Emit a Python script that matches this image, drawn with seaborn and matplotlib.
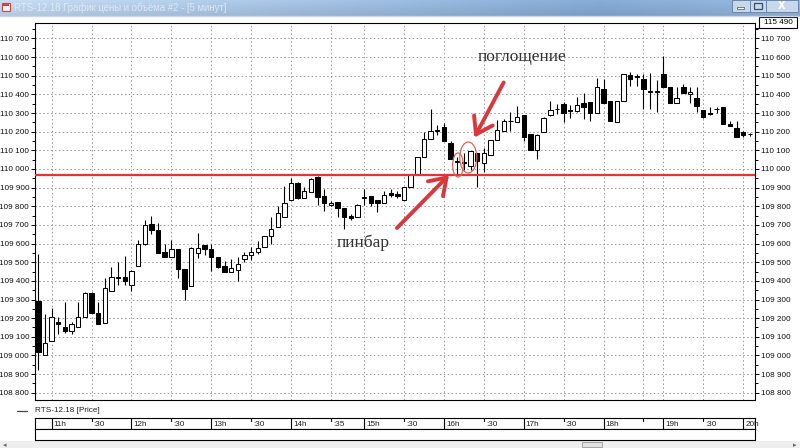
import matplotlib
matplotlib.use("Agg")
import matplotlib.pyplot as plt
import seaborn as sns
import numpy as np
from matplotlib import font_manager
from matplotlib.font_manager import FontProperties
from matplotlib.patches import Rectangle, Ellipse, FancyArrowPatch

# ---------------- data ----------------
opens = [109290, 109005, 109075, 109180, 109150, 109130, 109150, 109205, 109335, 109230,
         109175, 109345, 109415, 109420, 109380, 109480, 109600, 109705, 109675, 109555,
         109530, 109570, 109465, 109370, 109550, 109590, 109570, 109530, 109480, 109450,
         109460, 109515, 109540, 109555, 109580, 109640, 109690, 109745, 109835, 109925,
         109845, 109875, 109955, 109855, 109805, 109825, 109790, 109750, 109745, 109845,
         109855, 109835, 109815, 109870, 109865, 109835, 109905, 109975, 110065, 110160,
         110205, 110225, 110140, 110045, 110040, 110015, 110085, 110030, 110075, 110155,
         110205, 110255, 110250, 110290, 110185, 110100, 110200, 110290, 110320, 110350,
         110315, 110310, 110355, 110360, 110300, 110430, 110365, 110250, 110365, 110505,
         110495, 110480, 110420, 110415, 110510, 110440, 110355, 110440, 110400, 110380,
         110315, 110300, 110320, 110330, 110240, 110220, 110200, 110185]
highs = [109545, 109220, 109255, 109205, 109285, 109180, 109285, 109340, 109340, 109285,
         109415, 109475, 109500, 109535, 109460, 109620, 109725, 109750, 109710, 109600,
         109620, 109570, 109465, 109580, 109655, 109595, 109600, 109530, 109505, 109515,
         109530, 109555, 109580, 109615, 109640, 109745, 109800, 109910, 109950, 109930,
         109905, 109950, 109960, 109895, 109830, 109825, 109790, 109760, 109810, 109895,
         109855, 109835, 109880, 109890, 109880, 109905, 109975, 110065, 110200, 110320,
         110235, 110245, 110150, 110065, 110085, 110095, 110085, 110110, 110155, 110265,
         110270, 110305, 110340, 110290, 110190, 110185, 110280, 110365, 110350, 110360,
         110345, 110385, 110410, 110360, 110490, 110480, 110365, 110365, 110510, 110520,
         110510, 110510, 110515, 110475, 110605, 110440, 110440, 110455, 110440, 110440,
         110315, 110335, 110330, 110330, 110260, 110260, 110205, 110195]
lows = [108920, 109000, 109075, 109115, 109120, 109115, 109150, 109205, 109230, 109170,
        109175, 109345, 109380, 109380, 109345, 109480, 109590, 109650, 109550, 109530,
        109530, 109415, 109300, 109370, 109520, 109540, 109455, 109470, 109450, 109450,
        109400, 109500, 109510, 109545, 109580, 109600, 109690, 109745, 109835, 109840,
        109845, 109875, 109805, 109775, 109800, 109745, 109680, 109725, 109745, 109805,
        109800, 109770, 109815, 109850, 109845, 109835, 109905, 109975, 110065, 110160,
        110180, 110150, 110055, 109970, 109995, 109995, 109905, 109985, 110075, 110155,
        110205, 110205, 110250, 110150, 110100, 110055, 110200, 110285, 110295, 110250,
        110275, 110305, 110270, 110260, 110300, 110355, 110260, 110250, 110365, 110445,
        110445, 110320, 110320, 110305, 110440, 110355, 110355, 110410, 110355, 110305,
        110275, 110290, 110300, 110240, 110230, 110170, 110170, 110175]
closes = [109020, 109065, 109205, 109170, 109130, 109170, 109205, 109335, 109230, 109170,
          109360, 109420, 109420, 109400, 109455, 109600, 109700, 109675, 109550, 109530,
          109570, 109465, 109355, 109575, 109575, 109570, 109530, 109475, 109450, 109470,
          109490, 109540, 109555, 109575, 109640, 109680, 109765, 109815, 109925, 109845,
          109880, 109945, 109850, 109815, 109815, 109790, 109740, 109735, 109805, 109850,
          109815, 109815, 109860, 109860, 109855, 109905, 109975, 110065, 110160, 110205,
          110210, 110150, 110055, 110035, 110030, 110095, 110045, 110085, 110155, 110210,
          110260, 110260, 110280, 110170, 110100, 110180, 110275, 110315, 110320, 110300,
          110310, 110345, 110335, 110300, 110440, 110355, 110260, 110365, 110510, 110480,
          110495, 110430, 110415, 110415, 110440, 110355, 110380, 110410, 110415, 110340,
          110280, 110295, 110320, 110240, 110230, 110170, 110180, 110185]

level_price = 109968
time_idx = [2, 8, 14, 20, 26, 32, 38, 44, 49, 55, 61, 67, 73, 79, 85, 91, 94, 100, 106]
time_labels = ["11h", ":30", "12h", ":30", "13h", ":30", "14h", ":35", "15h", ":30",
               "16h", ":30", "17h", ":30", "18h", "", "19h", ":30", "20h"]
price_ticks = list(range(108800, 110701, 100))
current_price_label = "115 490"
window_title = "RTS-12.18 График цены и объёма #2 - [5 минут]"
legend_label = "RTS-12.18 [Price]"
ann_engulf = "поглощение"
ann_pinbar = "пинбар"

# ---------------- style ----------------
sns.set_style("white")


def has_font(name):
    try:
        font_manager.findfont(FontProperties(family=name), fallback_to_default=False)
        return True
    except Exception:
        return False


if has_font("Liberation Sans Narrow"):
    UI_FONT, UI_SIZE = "Liberation Sans Narrow", 6.6
else:
    UI_FONT, UI_SIZE = "Liberation Sans", 5.9
plt.rcParams["font.family"] = [UI_FONT, "DejaVu Sans"]

W, H = 800, 448
fig = plt.figure(figsize=(W / 100, H / 100), dpi=100)
fig.patch.set_facecolor("white")

XL = (-0.5, 107.78)
YL = (108761, 110783)


def fx(px):
    return px / W


def fy(py):
    return 1 - py / H


# overlay for window chrome (pixel coordinates)
ov = fig.add_axes([0, 0, 1, 1])
ov.set_zorder(-1)
ov.patch.set_visible(False)
ov.axis("off")

# title bar gradient
gx = np.linspace(0, 1, 400)
base = np.interp(gx, [0, 0.35, 0.75, 1.0], [0.0, 0.45, 1.0, 0.7])
c1 = np.array([0.74, 0.82, 0.91])
c2 = np.array([0.50, 0.64, 0.80])
row = c1[None, :] * (1 - base[:, None]) + c2[None, :] * base[:, None]
gy = np.linspace(0, 1, 16)
img = np.clip(row[None, :, :] * (1.06 - 0.1 * gy[:, None, None]), 0, 1)
ov.imshow(img, extent=[0, 800, 16, 0], aspect="auto", interpolation="bilinear")
ov.plot([0, 800], [16, 16], color="#c8d6e6", lw=1)
ov.add_patch(Rectangle((2, 3), 8, 8, facecolor="#f4f4f4", edgecolor="#c05050", lw=0.8))
ov.add_patch(Rectangle((3, 4), 6, 2.5, facecolor="#d84040", edgecolor="none"))
ov.text(14, 8, window_title, fontsize=6.9, color="#e8eff8", va="center", ha="left",
        family=["Liberation Sans", "DejaVu Sans"], alpha=0.8)
# window buttons
for (x0, x1) in [(732, 750), (750, 766), (766, 798)]:
    ov.add_patch(Rectangle((x0, 0), x1 - x0, 12, facecolor="#c8d8ec", edgecolor="#6a86aa", lw=0.7))
ov.add_patch(Rectangle((737, 7), 7, 2, facecolor="white", edgecolor="#3a4f6c", lw=0.5))
ov.add_patch(Rectangle((754, 3), 8, 6, facecolor="none", edgecolor="#3a4f6c", lw=0.9))
ov.text(782, 6, "X", fontsize=7, color="white", ha="center", va="center", weight="bold",
        family=["DejaVu Sans"])

# price box top right
ov.add_patch(Rectangle((759, 17), 38, 11, facecolor="white", edgecolor="black", lw=0.8))
ov.text(778, 22.8, current_price_label, fontsize=UI_SIZE, ha="center", va="center", color="black")
ov.plot([755, 759], [28, 28], color="black", lw=0.7)

# legend
ov.plot([17, 27], [411, 411], color="#444444", lw=0.9)
ov.text(35, 411, legend_label, fontsize=UI_SIZE, ha="left", va="center", color="#222222")

# scrollbar
ov.add_patch(Rectangle((0, 441), 800, 7, facecolor="#eeeeee", edgecolor="none"))
ov.add_patch(Rectangle((582, 442), 20, 5.5, facecolor="#e2e2e2", edgecolor="#9a9a9a", lw=0.6))
ov.text(5, 445, "◂", fontsize=5, color="#666666", ha="center", va="center", family=["DejaVu Sans"])
ov.text(795, 445, "▸", fontsize=5, color="#666666", ha="center", va="center", family=["DejaVu Sans"])
ov.set_xlim(0, 800)
ov.set_ylim(448, 0)

# ---------------- main chart ----------------
ax = fig.add_axes([fx(35), fy(400), fx(720), 377 / H])
ax.set_facecolor("white")
x = np.arange(len(opens))
o = np.array(opens, float)
h = np.array(highs, float)
l = np.array(lows, float)
c = np.array(closes, float)

ax.vlines(x, l, h, color="black", lw=0.8, zorder=3)
bottom = np.minimum(o, c)
height = np.maximum(np.abs(c - o), 4)
bull = c >= o
ax.bar(x[bull], height[bull], bottom=bottom[bull], width=0.66, color="white",
       edgecolor="black", linewidth=0.75, zorder=4)
ax.bar(x[~bull], height[~bull], bottom=bottom[~bull], width=0.66, color="black",
       edgecolor="black", linewidth=0.75, zorder=4)

ax.axhline(level_price, color="#e8323a", lw=1.6, zorder=5)

ax.set_xlim(*XL)
ax.set_ylim(*YL)
ax.set_yticks(price_ticks)
ax.set_yticks(np.arange(108850, 110751, 100), minor=True)
ax.set_yticklabels([f"{v:,}".replace(",", " ") for v in price_ticks])
ax.set_xticks(time_idx)
ax.tick_params(axis="x", length=0, labelbottom=False)
ax.tick_params(axis="y", which="both", left=True, right=True, labelleft=True, labelright=True,
               direction="out", labelsize=UI_SIZE, pad=1, width=0.7, color="black",
               labelcolor="#111111")
ax.tick_params(axis="y", which="major", length=3.2)
ax.tick_params(axis="y", which="minor", length=2)
ax.grid(True, which="major", color="#9a9a9a", lw=0.7, linestyle=(0, (1.5, 2.5)))
ax.set_axisbelow(True)
for s in ax.spines.values():
    s.set_color("black")
    s.set_linewidth(0.8)
    s.set_visible(True)


def px2d(px, py):
    return (px - 38.3) / 6.65, 110000 - (py - 169) * 5.362


# annotations
tx, ty = px2d(522, 57)
ax.text(tx, ty, ann_engulf, family=["Liberation Serif", "DejaVu Serif"], fontsize=12.5,
        color="#333333", ha="center", va="center", zorder=6)
tx, ty = px2d(363, 243)
ax.text(tx, ty, ann_pinbar, family=["Liberation Serif", "DejaVu Serif"], fontsize=12.5,
        color="#333333", ha="center", va="center", zorder=6)

arrow_col = "#d8373c"
for (a, b) in [((505, 80), (473, 140)), ((395, 230), (451, 173))]:
    ax.add_patch(FancyArrowPatch(px2d(*a), px2d(*b), arrowstyle="->,head_length=0.6,head_width=0.4",
                                 mutation_scale=19, color=arrow_col, lw=2.8, zorder=7))

ex, ey = px2d(458, 165)
ax.add_patch(Ellipse((ex, ey), 10.7 / 6.65, 24 * 5.362, facecolor="none",
                     edgecolor="#d9665a", lw=0.9, zorder=6))
ex, ey = px2d(468.3, 157.5)
ax.add_patch(Ellipse((ex, ey), 17 / 6.65, 31 * 5.362, facecolor="none",
                     edgecolor="#d9665a", lw=0.9, zorder=6))

# ---------------- time axis boxes ----------------
at = fig.add_axes([fx(35), fy(429), fx(720), 11 / H])
at.set_xlim(*XL)
at.set_ylim(0, 1)
at.set_xticks([])
at.set_yticks([])
for s in at.spines.values():
    s.set_color("black")
    s.set_linewidth(0.8)
for idx, lab in zip(time_idx, time_labels):
    if lab.endswith("h"):
        at.plot([idx, idx], [0, 1], color="black", lw=0.8)
    else:
        at.plot([idx, idx], [1, 0.72], color="black", lw=0.8)
    at.text(idx + 0.3, 0.45, lab, fontsize=UI_SIZE, ha="left", va="center", color="#222222",
            clip_on=False)

at2 = fig.add_axes([fx(35), fy(440), fx(720), 11 / H])
at2.set_xticks([])
at2.set_yticks([])
for s in at2.spines.values():
    s.set_color("black")
    s.set_linewidth(0.8)

fig.savefig("out.png", dpi=100)
